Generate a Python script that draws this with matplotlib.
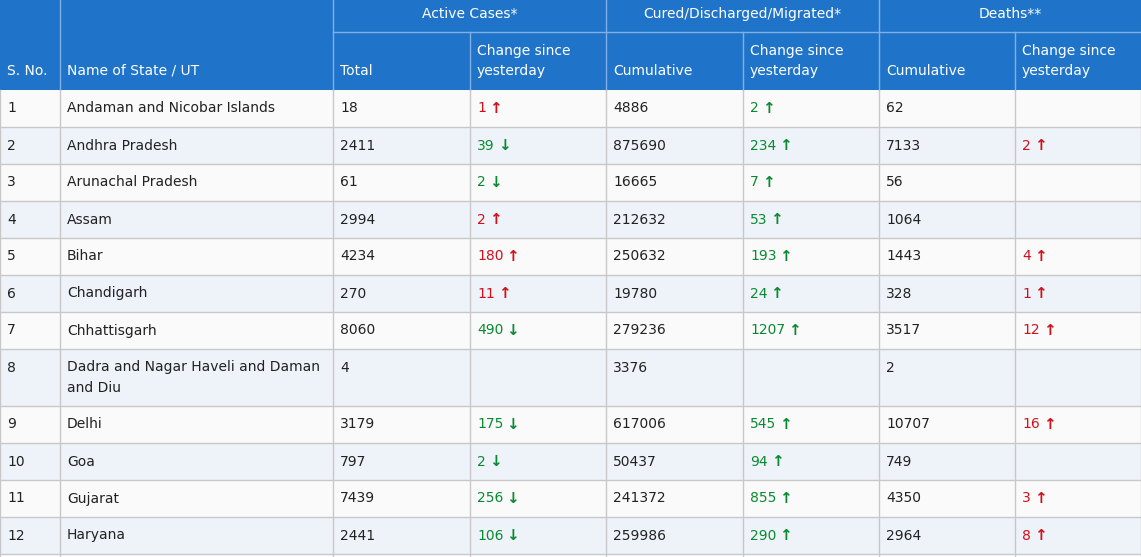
import matplotlib
matplotlib.use("Agg")
import matplotlib.pyplot as plt
from matplotlib.patches import Rectangle

sno = [str(i) for i in range(1, 13)]
states = ["Andaman and Nicobar Islands", "Andhra Pradesh", "Arunachal Pradesh", "Assam", "Bihar",
          "Chandigarh", "Chhattisgarh", "Dadra and Nagar Haveli and Daman\nand Diu", "Delhi", "Goa",
          "Gujarat", "Haryana"]
active_total = [18, 2411, 61, 2994, 4234, 270, 8060, 4, 3179, 797, 7439, 2441]
active_change = [1, -39, -2, 2, 180, 11, -490, None, -175, -2, -256, -106]
cured_cum = [4886, 875690, 16665, 212632, 250632, 19780, 279236, 3376, 617006, 50437, 241372, 259986]
cured_change = [2, 234, 7, 53, 193, 24, 1207, None, 545, 94, 855, 290]
deaths_cum = [62, 7133, 56, 1064, 1443, 328, 3517, 2, 10707, 749, 4350, 2964]
deaths_change = [None, 2, None, None, 4, 1, 12, None, 16, None, 3, 8]

group_headers = ["Active Cases*", "Cured/Discharged/Migrated*", "Deaths**"]
sub_headers = ["S. No.", "Name of State / UT", "Total", "Change since\nyesterday", "Cumulative",
               "Change since\nyesterday", "Cumulative", "Change since\nyesterday"]

W, H = 1141, 557
cols = [0, 60, 333, 470, 606, 743, 879, 1015, 1141]
HBLUE = "#1f74c9"
RED, GREEN = "#d0101a", "#0a8a30"
FS = 10

fig = plt.figure(figsize=(W/100, H/100), dpi=100)
ax = fig.add_axes([0, 0, 1, 1])
ax.set_xlim(0, W); ax.set_ylim(H, 0); ax.axis("off")

# header
ax.add_patch(Rectangle((0, 0), W, 90, color=HBLUE, lw=0))
for i, g in enumerate(group_headers):
    x0, x1 = cols[2 + 2*i], cols[4 + 2*i]
    ax.text((x0+x1)/2, 14, g, ha="center", va="center", color="white", fontsize=FS)
    ax.plot([x0, x1], [32, 32], color="#7fb0e6", lw=1)
for c in cols[1:-1]:
    top = 0 if c in (60, 333, 606, 879) else 32
    ax.plot([c, c], [top, 90], color="#7fb0e6", lw=1)
for j, s in enumerate(sub_headers):
    if "\n" in s:
        ax.text(cols[j]+7, 61, s, ha="left", va="center", color="white", fontsize=FS, linespacing=1.6)
    else:
        ax.text(cols[j]+7, 71, s, ha="left", va="center", color="white", fontsize=FS)

fig.canvas.draw()
rend = fig.canvas.get_renderer()

def num_arrow(x, yc, val, up, color):
    t = ax.text(x, yc, str(val), ha="left", va="center", color=color, fontsize=FS)
    bb = t.get_window_extent(rend)
    ax.text(x + bb.width + 3, yc, "↑" if up else "↓", ha="left", va="center",
            color=color, fontsize=FS+1, fontweight="bold")

y = 90
for i in range(len(states)):
    h = 57 if "\n" in states[i] else 37
    bg = "#fafafa" if i % 2 == 0 else "#eef3fa"
    ax.add_patch(Rectangle((0, y), W, h, color=bg, lw=0))
    ax.plot([0, W], [y+h, y+h], color="#c8c8c8", lw=1)
    yc = y + 18.5
    vals = [sno[i], states[i], active_total[i], None, cured_cum[i], None, deaths_cum[i], None]
    for j, v in enumerate(vals):
        if v is not None:
            ax.text(cols[j]+7, yc if j != 1 else (y + h/2 if "\n" in states[i] else yc), str(v),
                    ha="left", va="center", color="#222222", fontsize=FS, linespacing=1.6)
    if active_change[i] is not None:
        up = active_change[i] > 0
        num_arrow(cols[3]+7, yc, abs(active_change[i]), up, RED if up else GREEN)
    if cured_change[i] is not None:
        num_arrow(cols[5]+7, yc, cured_change[i], True, GREEN)
    if deaths_change[i] is not None:
        num_arrow(cols[7]+7, yc, deaths_change[i], True, RED)
    y += h
for c in cols:
    ax.plot([c, c], [90, H], color="#c8c8c8", lw=1)

fig.savefig("out.png", dpi=100)
